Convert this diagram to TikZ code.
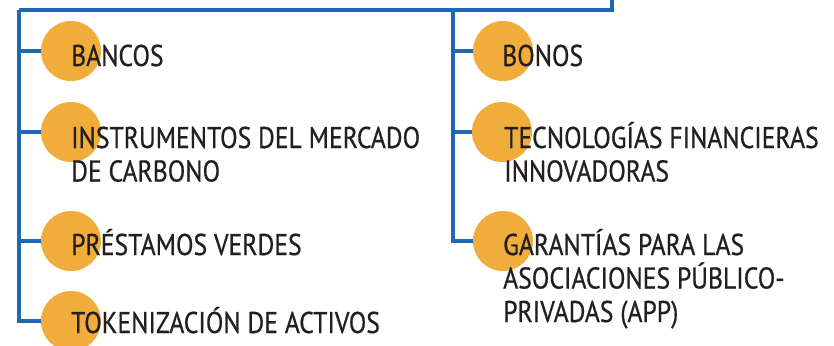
\documentclass[tikz,border=0pt]{standalone}
\usepackage{fontspec}
\setmainfont{PT Sans}[FakeStretch=0.855,FakeBold=0.6]
\definecolor{lineblue}{RGB}{31,104,180}
\definecolor{dotorange}{RGB}{240,173,60}
\definecolor{txt}{RGB}{35,31,32}
\newcommand{\twolines}[2]{\vtop{\hbox{#1}\hbox{#2}}}
\newcommand{\threelines}[3]{\vtop{\hbox{#1}\hbox{#2}\hbox{#3}}}
\begin{document}
\begin{tikzpicture}[x=1pt,y=-1pt,
  dot/.style={circle,fill=dotorange,minimum size=60pt,inner sep=0pt},
  label/.style={anchor=base west,inner sep=0pt,text=txt,
    font=\fontsize{30}{33.5}\selectfont},
  conn/.style={draw=lineblue,line width=3.2pt}]
\useasboundingbox (0,0) rectangle (834,345);
\coordinate (root) at (612,-2);
\coordinate (lt) at (19,10);
\coordinate (rt) at (453,10);
% circles
\node[dot] (c1) at (71,51) {};
\node[dot] (c2) at (71,132) {};
\node[dot] (c3) at (71,241) {};
\node[dot] (c4) at (71,321) {};
\node[dot] (d1) at (503,51) {};
\node[dot] (d2) at (502,132) {};
\node[dot] (d3) at (503,241) {};
% connectors
\draw[conn] (root) |- (lt);
\draw[conn] (lt) |- (c1.west);
\draw[conn] (lt) |- (c2.west);
\draw[conn] (lt) |- (c3.west);
\draw[conn] (lt) |- (c4.west);
\draw[conn] (rt) |- (d1.west);
\draw[conn] (rt) |- (d2.west);
\draw[conn] (rt) |- (d3.west);
% labels
\node[label] (t1) at (71,66) {BANCOS};
\node[label] (t2) at (71,148) {\twolines{INSTRUMENTOS DEL MERCADO}{DE CARBONO}};
\node[label] (t3) at (71,255) {PRÉSTAMOS VERDES};
\node[label] (t4) at (71,333) {TOKENIZACIÓN DE ACTIVOS};
\node[label] (u1) at (502,66) {BONOS};
\node[label] (u2) at (504,148) {\twolines{TECNOLOGÍAS FINANCIERAS}{INNOVADORAS}};
\node[label] (u3) at (503,255) {\threelines{GARANTÍAS PARA LAS}{ASOCIACIONES PÚBLICO-}{PRIVADAS (APP)}};
\end{tikzpicture}
\end{document}
